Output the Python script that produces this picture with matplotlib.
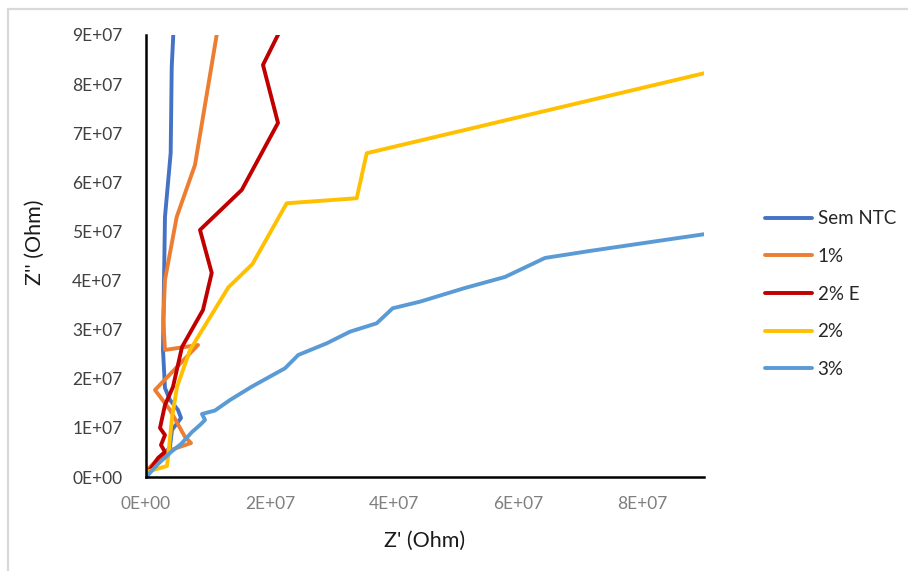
import matplotlib
matplotlib.use("Agg")
import matplotlib.pyplot as plt
from matplotlib.patches import Rectangle
from matplotlib.ticker import FuncFormatter, MultipleLocator

# Nyquist data, values in units of 1E7 Ohm (Z' real part, Z'' imaginary part)
SCALE = 1e7

sem_ntc_x = [0.016, 0.194, 0.387, 0.419, 0.565, 0.516, 0.387, 0.306, 0.274, 0.290, 0.306, 0.398, 0.415, 0.452]
sem_ntc_y = [0.020, 0.305, 0.611, 0.957, 1.202, 1.365, 1.568, 1.813, 2.587, 3.951, 5.295, 6.599, 8.350, 9.310]

p1_x = [0.000, 0.306, 0.726, 0.629, 0.387, 0.145, 0.839, 0.306, 0.279, 0.306, 0.495, 0.790, 1.181]
p1_y = [0.122, 0.509, 0.692, 0.815, 1.365, 1.772, 2.688, 2.587, 3.198, 4.012, 5.295, 6.354, 9.310]

p2e_x = [0.016, 0.194, 0.306, 0.242, 0.306, 0.226, 0.306, 0.435, 0.581, 0.919, 1.060, 0.871, 1.544, 2.129, 1.887, 2.250]
p2e_y = [0.061, 0.387, 0.509, 0.652, 0.855, 0.998, 1.466, 1.833, 2.648, 3.401, 4.155, 5.031, 5.845, 7.210, 8.391, 9.310]

p2_x = [0.000, 0.339, 0.371, 0.419, 0.500, 0.710, 1.327, 1.718, 2.269, 3.398, 3.560, 10.00]
p2_y = [0.100, 0.224, 0.591, 1.202, 1.833, 2.587, 3.859, 4.338, 5.574, 5.676, 6.593, 8.520]

p3_x = [0.000, 0.194, 0.403, 0.565, 0.742, 0.871, 0.952, 0.903, 1.113, 1.355, 1.705, 2.242, 2.456,
        2.915, 3.290, 3.721, 3.979, 4.419, 5.145, 5.790, 6.435, 7.161, 8.371, 9.580]
p3_y = [0.000, 0.265, 0.509, 0.672, 0.916, 1.059, 1.161, 1.283, 1.354, 1.568, 1.839, 2.214, 2.485,
        2.722, 2.959, 3.130, 3.436, 3.570, 3.849, 4.073, 4.460, 4.603, 4.827, 5.050]

labels = ["Sem NTC", "1%", "2% E", "2%", "3%"]
colors = ["#4472C4", "#ED7D31", "#C00000", "#FFC000", "#5B9BD5"]
series = [(sem_ntc_x, sem_ntc_y), (p1_x, p1_y), (p2e_x, p2e_y), (p2_x, p2_y), (p3_x, p3_y)]

plt.rcParams["font.family"] = ["Lato", "DejaVu Sans"]

fig = plt.figure(figsize=(9.08, 5.71), dpi=100)
ax = fig.add_axes([146 / 908, 1 - 477 / 571, 558 / 908, 442 / 571])

for (xs, ys), lab, col in zip(series, labels, colors):
    ax.plot([v * SCALE for v in xs], [v * SCALE for v in ys], color=col, lw=2.8,
            label=lab, solid_joinstyle="round", solid_capstyle="round")

ax.set_xlim(0, 9e7)
ax.set_ylim(0, 9e7)
ax.xaxis.set_major_locator(MultipleLocator(2e7))
ax.yaxis.set_major_locator(MultipleLocator(1e7))
fmt = FuncFormatter(lambda v, pos: f"{v:.0E}")
ax.xaxis.set_major_formatter(fmt)
ax.yaxis.set_major_formatter(fmt)
ax.tick_params(axis="both", length=0, labelsize=12.5)
ax.tick_params(axis="x", pad=14, labelcolor="#7f7f7f")
ax.tick_params(axis="y", pad=17, labelcolor="#404040")

for side in ["top", "right"]:
    ax.spines[side].set_visible(False)
for side in ["left", "bottom"]:
    ax.spines[side].set_color("black")
    ax.spines[side].set_linewidth(1.8)

ax.set_xlabel("Z' (Ohm)", fontsize=15.5, va="center", color="#1a1a1a")
ax.set_ylabel("Z'' (Ohm)", fontsize=15.5, va="center", color="#1a1a1a")
ax.xaxis.set_label_coords(0.5, (477 - 541) / 442)
ax.yaxis.set_label_coords((35 - 146) / 558, (477 - 242) / 442)

fig.legend(loc="center left", bbox_to_anchor=(765 / 908, 1 - 294 / 571),
           frameon=False, fontsize=13.5, handlelength=2.5, handletextpad=0.3,
           labelspacing=1.1, borderpad=0, borderaxespad=0, labelcolor="#262626")

# light grey chart-area frame, only top and left edges fall inside the canvas
fig.add_artist(Rectangle((8 / 908, -0.1), 1.2, 1.1 - 9 / 571, transform=fig.transFigure,
                         fill=False, edgecolor="#d9d9d9", lw=1.6))

fig.savefig("out.png", dpi=100)
